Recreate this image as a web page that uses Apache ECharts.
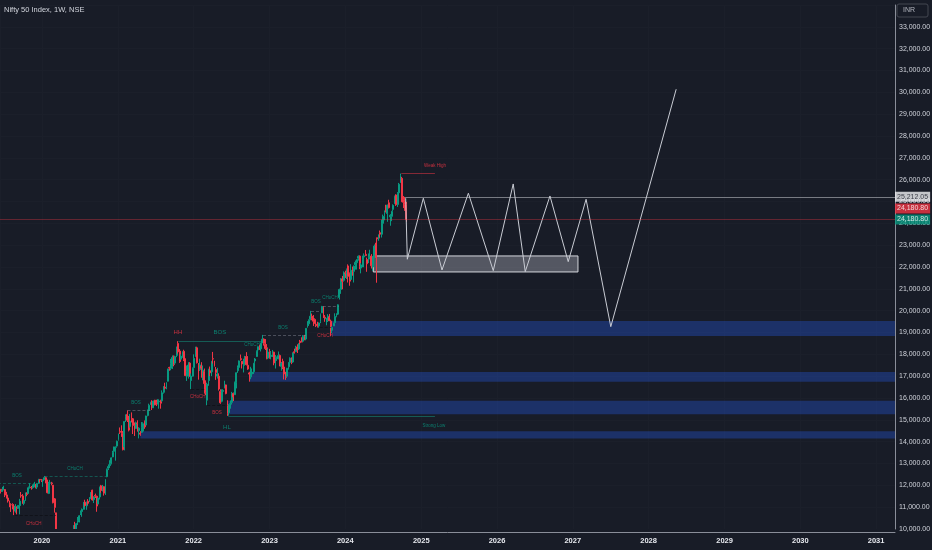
<!DOCTYPE html>
<html>
<head>
<meta charset="utf-8">
<title>Nifty 50 Index, 1W, NSE</title>
<script src="https://cdn.jsdelivr.net/npm/echarts@6/dist/echarts.min.js"></script>
<style>
    html, body { margin: 0; padding: 0; background: #181c27; }
    #nifty-chart { width: 932px; height: 550px; }
</style>
</head>
<body>
<div id="nifty-chart"></div>
<script>
// weekly candles, each row is [open, close, low, high]
var firstWeek2019 = '2019-06-10';
var candles2019 = [
    [11900,11823,11790,11950],[11820,11724,11625,11830],[11725,11789,11700,11930],[11790,11811,11775,11980],
    [11810,11552,11460,11815],[11560,11419,11400,11700],[11420,11284,11210,11490],[11285,11109,10999,11300],
    [11110,11109,10782,11180],[11110,11048,10901,11180],[11050,10829,10637,11140],[10830,11023,10746,11140],
    [11020,10946,10670,11030],[10950,11076,10930,11100],[11070,11274,10670,11380],[11540,11512,11430,11695],
    [11515,11174,11158,11600],[11175,11305,11090,11330],[11300,11662,11300,11670],[11660,11583,11500,11680],
    [11630,11890,11620,11945],[11890,11908,11850,12100],[11910,11895,11800,11970],[11900,11914,11840,12040],
    [11920,12056,11920,12160],[12050,11921,11860,12060],[11920,12087,11830,12100],[12090,12272,12060,12295],
    [12270,12245,12130,12290],[12250,12227,12150,12290]
];
var firstWeek2020 = '2020-01-06';
var candles2020 = [
    [12200,12257,11930,12270],[12260,12352,12250,12430],[12350,12248,12090,12400],[12250,11662,11630,12250],
    [11630,12098,11600,12160],[12100,12113,12000,12250],[12110,12080,12000,12160],[12010,11202,11175,12010],
    [11380,10989,10750,11420],[10740,9955,8555,10750],[9590,8745,7832,9600],[8300,8660,7511,8750],
    [8380,8084,8055,8680],[8450,9112,8360,9130],[9000,9267,8820,9390],[9300,9154,8910,9390],
    [9200,9860,9200,9890],[9530,9251,9120,9540],[9380,9137,9050,9580],[9160,9039,8810,9200],
    [9050,9580,8970,9600],[9720,10142,9700,10180],[10200,9972,9545,10330],[9920,10244,9720,10270],
    [10320,10383,10180,10550],[10370,10607,10300,10630],[10720,10768,10640,10850],[10800,10901,10560,10940],
    [10900,11194,10900,11240],[11230,11073,11030,11340],[11060,11214,10880,11260],[11270,11178,11110,11370],
    [11250,11372,11240,11460],[11400,11647,11370,11690],[11780,11333,11300,11800],[11350,11464,11190,11500],
    [11540,11504,11420,11620],[11500,11050,10790,11530],[11140,11417,11140,11430],[11470,11914,11350,11940],
    [11980,11762,11660,12020],[11810,11930,11720,12020],[11940,11642,11530,11950],[11700,12263,11560,12280],
    [12400,12720,12370,12770],[12780,12859,12700,12960],[12900,12969,12790,13150],[13000,13258,12960,13280],
    [13300,13514,13290,13580],[13560,13761,13520,13770],[13740,13749,13130,13780],[13800,14018,13770,14050]
];
var firstWeek2021 = '2021-01-04';
var candles2021 = [
    [14100,14347,14050,14370],[14470,14433,14350,14650],[14400,14372,14220,14750],[14360,13635,13600,14490],
    [13760,14924,13600,14930],[15000,15163,14900,15250],[15250,14982,14900,15430],[14990,14529,14470,15180],
    [14700,14938,14640,15270],[15060,15031,14880,15340],[15050,14744,14350,15070],[14740,14507,14260,14880],
    [14600,14867,14600,14920],[14840,14834,14460,14980],[14500,14617,14150,14660],[14400,14341,14270,14480],
    [14450,14631,14400,14900],[14480,14823,14420,14890],[14930,14677,14590,14970],[14760,15175,14760,15190],
    [15200,15435,15160,15470],[15430,15670,15380,15740],[15700,15799,15680,15830],[15800,15683,15450,15900],
    [15550,15860,15550,15880],[15900,15722,15660,15915],[15790,15690,15630,15920],[15770,15923,15700,15950],
    [15830,15856,15510,15860],[15880,15763,15510,15920],[15870,16238,15830,16350],[16260,16529,16200,16540],
    [16500,16450,16400,16700],[16500,16705,16400,16720],[16770,17324,16760,17340],[17400,17369,17250,17430],
    [17360,17585,17270,17790],[17440,17853,17330,17950],[17900,17532,17450,17950],[17600,17895,17530,17940],
    [17950,18338,17870,18350],[18500,18114,18030,18604],[18150,17671,17610,18240],[17780,17916,17760,18000],
    [17920,18102,17840,18140],[18140,17764,17690,18210],[17800,17026,17000,17810],[17050,17196,16780,17490],
    [17000,17511,16890,17640],[17600,16985,16980,17640],[16800,17003,16410,17120],[17000,17354,16980,17400]
];
var firstWeek2022 = '2022-01-03';
var candles2022 = [
    [17390,17812,17380,18000],[17900,18255,17900,18350],[18300,17617,17580,18350],[17500,17102,16840,17600],
    [17300,17516,17240,17800],[17450,17374,16930,17640],[17100,17276,16810,17490],[17200,16658,16200,17350],
    [16500,16245,16130,16810],[15900,16630,15670,16700],[16800,17287,16560,17340],[17250,17153,17000,17440],
    [17200,17670,17000,17700],[17800,17784,17580,18110],[17700,17476,17440,17700],[17300,17172,16830,17420],
    [17000,17102,16890,17380],[17000,16411,16340,17130],[16300,15782,15735,16400],[15850,16266,15800,16400],
    [16300,16352,15900,16400],[16500,16584,16440,16790],[16600,16202,16170,16610],[15870,15293,15180,15900],
    [15330,15699,15190,15720],[15750,15752,15510,15890],[15800,16221,15700,16280],[16200,16049,15860,16250],
    [16150,16719,16140,16750],[16700,17158,16440,17170],[17250,17397,17150,17490],[17400,17698,17360,17720],
    [17800,17758,17710,17990],[17680,17558,17350,17690],[17300,17539,17170,17800],[17550,17833,17480,17930],
    [17900,17531,17490,18100],[17500,17327,17290,17920],[17150,17094,16750,17200],[17000,17315,16860,17430],
    [17100,17186,16950,17350],[17200,17576,17100,17610],[17700,17787,17570,17830],[17900,18117,17880,18180],
    [18200,18350,17970,18360],[18380,18308,18200,18440],[18250,18512,18130,18530],[18520,18696,18520,18890],
    [18700,18497,18400,18730],[18450,18269,18200,18700],[18300,17806,17770,18470],[17830,18105,17780,18270]
];
var firstWeek2023 = '2023-01-02';
var candles2023 = [
    [18130,17859,17800,18250],[17900,17957,17770,18140],[17990,18028,17880,18200],[18100,17604,17500,18120],
    [17600,17854,17350,17970],[17800,17856,17700,17900],[17800,17944,17770,18130],[17950,17465,17460,17990],
    [17450,17594,17250,17650],[17680,17413,17320,17800],[17420,17100,16850,17450],[16990,16945,16830,17200],
    [17000,17360,16940,17380],[17430,17600,17300,17640],[17630,17828,17570,17860],[17770,17624,17550,17860],
    [17650,18065,17610,18090],[18120,18069,18040,18260],[18120,18315,18120,18390],[18340,18203,18060,18460],
    [18250,18499,18200,18510],[18600,18534,18460,18660],[18600,18563,18550,18780],[18600,18826,18560,18880],
    [18800,18665,18650,18890],[18700,19189,18650,19200],[19250,19332,19220,19520],[19400,19564,19300,19600],
    [19600,19745,19560,19990],[19750,19646,19560,19870],[19700,19517,19300,19800],[19600,19428,19400,19650],
    [19380,19310,19250,19470],[19330,19265,19230,19490],[19300,19435,19220,19460],[19500,19820,19430,19870],
    [19900,20192,19890,20220],[20150,19674,19660,20200],[19700,19638,19490,19800],[19620,19654,19330,19660],
    [19540,19751,19480,19840],[19700,19542,19520,19850],[19520,19047,18840,19590],[19100,19230,18970,19280],
    [19300,19425,19300,19450],[19450,19732,19430,19880],[19730,19795,19700,19880],[19840,20268,19800,20290],
    [20600,20969,20510,21010],[20970,21457,20770,21490],[21450,21349,20980,21590],[21390,21731,21330,21800]
];
var firstWeek2024 = '2024-01-01';
var candles2024 = [
    [21730,21711,21500,21830],[21750,21895,21450,21930],[22050,21572,21290,22120],[21700,21353,21140,21750],
    [21430,21854,21430,22130],[21900,21783,21600,22020],[21800,22041,21290,22070],[22100,22213,21880,22300],
    [22200,22339,21880,22350],[22400,22494,22290,22530],[22500,22023,21900,22530],[21950,22097,21710,22180],
    [22000,22327,22000,22520],[22460,22514,22300,22620],[22580,22519,22500,22780],[22340,22147,21780,22430],
    [22340,22420,22180,22620],[22470,22476,22350,22790],[22500,22055,21930,22590],[22000,22467,21820,22500],
    [22450,22957,22400,23030],[23000,22531,22420,23110],[23340,23290,21280,23340],[23320,23466,23200,23490],
    [23570,23501,23350,23670],[23500,24010,23350,24170],[24000,24324,23990,24400],[24330,24502,24140,24590],
    [24600,24531,24500,24850],[24450,24835,24070,24860],[24940,24718,24680,25080],[24300,24367,23890,24420],
    [24320,24541,24100,24570],[24640,24823,24560,24870],[24900,25236,24900,25270],[25300,24852,24800,25330],
    [24860,25357,24750,25430],[25400,25791,25290,25850],[25870,26179,25850,26277],[26060,25014,24970,26130],
    [25080,24964,24700,25250],[25000,24854,24570,25210],[24860,24180.8,24070,24980]
];

var lastClose = 24180.8;
var rangeTop = 25212.05;

// demand zones: [from, low, high], they run to the right edge
var demandZones = [
    ['2023-10-26', 18837, 19530],
    ['2022-09-26', 16747, 17190],
    ['2022-06-13', 15260, 15870],
    ['2021-04-19', 14150, 14480]
];
// consolidation box: [from, to, low, high]
var rangeBox = ['2024-05-15', '2027-01-26', 21773, 22506];

// projected path
var projDates = ['2024-10-18', '2024-10-26', '2025-01-11', '2025-04-11', '2025-08-16', '2025-12-14',
    '2026-03-20', '2026-05-17', '2026-09-13', '2026-12-10', '2027-03-06', '2027-07-03', '2028-05-13'];
var projValues = [25150, 22355, 25149, 21864, 25378, 21832, 25804, 21787, 25254, 22245, 25103, 19267, 30142];

// structure lines: [kind, from, to, level]
var structureLines = [
    ['bull', '2019-06-03', '2019-11-25', 12103],
    ['bull', '2020-01-14', '2020-11-09', 12430],
    ['bear', '2019-08-23', '2020-03-09', 10637],
    ['swing', '2021-02-16', '2021-06-07', 15431],
    ['high', '2021-10-19', '2022-11-28', 18604],
    ['swing', '2022-12-01', '2023-06-28', 18887],
    ['swing', '2023-07-20', '2023-09-08', 19991],
    ['swing', '2023-09-15', '2023-12-01', 20222],
    ['bear', '2023-08-31', '2023-10-26', 19223],
    ['bear', '2021-12-20', '2022-02-24', 16410],
    ['bear', '2022-03-07', '2022-06-13', 15671],
    ['strong', '2022-06-17', '2025-03-08', 15183],
    ['weak', '2024-09-27', '2025-03-08', 26277]
];
// structure labels: [text, side, date, value]
var structureLabels = [
    ['BOS', 'up', '2019-09-03', 12428],
    ['CHoCH', 'up', '2020-06-08', 12749],
    ['CHoCH', 'down', '2019-11-23', 10229],
    ['BOS', 'up', '2021-03-29', 15772],
    ['HH', 'down', '2021-10-17', 19025],
    ['BOS', 'up', '2022-05-07', 19025],
    ['CHoCH', 'up', '2022-10-09', 18429],
    ['BOS', 'up', '2023-03-07', 19208],
    ['BOS', 'up', '2023-08-13', 20399],
    ['CHoCH', 'up', '2023-10-19', 20582],
    ['CHoCH', 'down', '2023-09-25', 18841],
    ['CHoCH', 'down', '2022-01-21', 16047],
    ['BOS', 'down', '2022-04-23', 15314],
    ['HL', 'up', '2022-06-10', 14673],
    ['Strong Low', 'up', '2025-03-03', 14718],
    ['Weak High', 'down', '2025-03-08', 26629]
];

var xMin = '2019-06-13';
var xMax = '2031-04-02';

var UP = '#089981';
var DOWN = '#f23645';
var BG = '#181c27';
var FONT = "'Liberation Sans', Arial, sans-serif";
var DAY = 86400000;

window.onload = function () {
    loadChart();
};

function t(s) {
    return Date.parse(s);
}

function buildCandles() {
    var years = [
        [firstWeek2019, candles2019], [firstWeek2020, candles2020], [firstWeek2021, candles2021],
        [firstWeek2022, candles2022], [firstWeek2023, candles2023], [firstWeek2024, candles2024]
    ];
    var out = [];
    for (var i = 0; i < years.length; i++) {
        var start = t(years[i][0]);
        var rows = years[i][1];
        for (var j = 0; j < rows.length; j++) {
            out.push([start + j * 7 * DAY].concat(rows[j]));
        }
    }
    return out;
}

function lineStyleFor(kind) {
    if (kind === 'bull') return { color: '#0f8f79', width: 1, type: [3, 2] };
    if (kind === 'bear') return { color: '#07080c', width: 1, type: [3, 2] };
    if (kind === 'swing') return { color: '#7d828f', width: 1, type: [3, 2] };
    if (kind === 'weak') return { color: DOWN, width: 1, type: 'solid' };
    return { color: '#129a83', width: 1, type: 'solid' };
}

function fmt(v) {
    return v.toLocaleString('en-US', { minimumFractionDigits: 2, maximumFractionDigits: 2 });
}

function timeAxis(extra) {
    var axis = {
        type: 'time',
        position: 'bottom',
        min: t(xMin), max: t(xMax),
        minInterval: 365 * DAY, maxInterval: 366 * DAY,
        axisTick: { show: false }
    };
    for (var key in extra) axis[key] = extra[key];
    return axis;
}

function loadChart() {
    var chart = echarts.init(document.getElementById('nifty-chart'));

    var segs = [];
    for (var i = 0; i < structureLines.length; i++) {
        var s = structureLines[i];
        segs.push({ coords: [[t(s[1]), s[3]], [t(s[2]), s[3]]], lineStyle: lineStyleFor(s[0]) });
    }
    segs.push({ coords: [[t(projDates[0]) - 3 * DAY, rangeTop], [t(xMax), rangeTop]],
        lineStyle: { color: '#d8dae0', width: 1, type: 'solid' } });

    var labels = [];
    for (var k = 0; k < structureLabels.length; k++) {
        var l = structureLabels[k];
        var big = l[0] === 'HH' || l[0] === 'HL' || (l[0] === 'BOS' && l[2] === '2022-05-07');
        labels.push({
            value: [t(l[2]), l[3]],
            label: { formatter: l[0], color: l[1] === 'up' ? UP : DOWN, fontSize: big ? 6 : 4.5 }
        });
    }

    var zones = [];
    for (var z = 0; z < demandZones.length; z++) {
        zones.push([
            { xAxis: t(demandZones[z][0]), yAxis: demandZones[z][1] },
            { xAxis: t(xMax), yAxis: demandZones[z][2] }
        ]);
    }
    zones.push([
        { xAxis: t(rangeBox[0]), yAxis: rangeBox[2],
          itemStyle: { color: 'rgba(190,194,204,0.36)', borderColor: '#d4d6dc', borderWidth: 1 } },
        { xAxis: t(rangeBox[1]), yAxis: rangeBox[3] }
    ]);

    var proj = [];
    for (var p = 0; p < projDates.length; p++) {
        proj.push([t(projDates[p]), projValues[p]]);
    }

    var tagEnd = t(xMax);
    var option = {
        backgroundColor: BG,
        animation: false,
        title: {
            text: 'Nifty 50 Index, 1W, NSE',
            left: 4, top: 6, padding: 0,
            textStyle: { color: '#d1d4dc', fontSize: 7.5, fontWeight: 'normal', fontFamily: FONT }
        },
        grid: { left: 0, right: 37, top: 5, bottom: 21, outerBoundsMode: 'none' },
        xAxis: [
            timeAxis({
                axisLabel: { show: false },
                axisLine: { show: false },
                splitLine: { show: true, lineStyle: { color: '#1b1f2a' } }
            }),
            timeAxis({
                offset: 3,
                z: 11,
                axisLabel: { formatter: '{yyyy}', color: '#e6e8ee', fontSize: 7.5, fontWeight: 'bold',
                    fontFamily: FONT, margin: 5 },
                axisLine: { show: true, lineStyle: { color: '#8a8e99' } },
                splitLine: { show: false }
            })
        ],
        yAxis: {
            type: 'value',
            position: 'right',
            min: 10000, max: 34000, interval: 1000,
            axisLabel: { formatter: fmt, color: '#d1d4dc', fontSize: 7, fontFamily: FONT,
                margin: 4, showMaxLabel: false },
            axisLine: { show: true, lineStyle: { color: '#8a8e99' } },
            axisTick: { show: false },
            splitLine: { show: true, lineStyle: { color: '#1b1f2a' } }
        },
        graphic: [{
            type: 'rect', z: 10,
            shape: { x: 0, y: 529, width: 895, height: 21 },
            style: { fill: BG }
        }, {
            type: 'rect', z: 10,
            shape: { x: 897, y: 4, width: 31, height: 13, r: 2 },
            style: { fill: 'none', stroke: '#434651', lineWidth: 1 }
        }, {
            type: 'text', z: 10, x: 903, y: 7,
            style: { text: 'INR', fill: '#b2b5be', fontSize: 7, fontFamily: FONT }
        }],
        series: [{
            type: 'line',
            name: 'zones',
            data: [],
            markArea: {
                silent: true,
                itemStyle: { color: 'rgba(41,98,255,0.3)' },
                data: zones
            }
        }, {
            type: 'candlestick',
            name: 'Nifty 50',
            data: buildCandles(),
            encode: { x: 0, y: [1, 2, 3, 4] },
            barWidth: 1.4,
            itemStyle: {
                color: UP, color0: DOWN,
                borderColor: UP, borderColor0: DOWN,
                borderWidth: 1
            },
            markLine: {
                silent: true,
                symbol: 'none',
                label: { show: false },
                lineStyle: { color: 'rgba(242,54,69,0.35)', width: 1, type: 'solid' },
                data: [{ yAxis: lastClose }]
            }
        }, {
            type: 'lines',
            coordinateSystem: 'cartesian2d',
            silent: true,
            z: 3,
            data: segs
        }, {
            type: 'line',
            name: 'projection',
            data: proj,
            symbol: 'none',
            z: 4,
            lineStyle: { color: '#c9ccd4', width: 1 }
        }, {
            type: 'scatter',
            symbolSize: 0,
            silent: true,
            z: 5,
            label: { show: true, position: 'inside', fontFamily: FONT },
            data: labels
        }, {
            type: 'scatter',
            symbolSize: 0,
            silent: true,
            clip: false,
            z: 12,
            label: { show: true, position: 'right', distance: 0, fontSize: 7, fontFamily: FONT,
                padding: [2, 2, 1, 2] },
            data: [
                { value: [tagEnd, rangeTop],
                  label: { formatter: fmt(rangeTop), color: '#131722', backgroundColor: '#f0f1f4' } },
                { value: [tagEnd, lastClose],
                  label: { formatter: fmt(lastClose), color: '#ffffff', backgroundColor: DOWN, offset: [0, -11] } },
                { value: [tagEnd, lastClose],
                  label: { formatter: fmt(lastClose), color: '#ffffff', backgroundColor: UP } }
            ]
        }]
    };
    chart.setOption(option);
}
</script>
</body>
</html>
